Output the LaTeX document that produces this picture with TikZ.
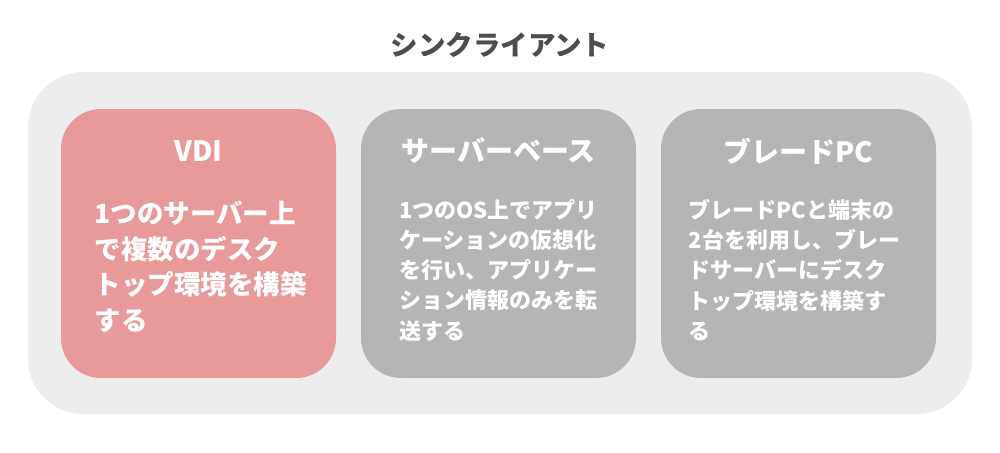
\documentclass[tikz,border=0pt]{standalone}
\usepackage{fontspec}
\setmainfont{Noto Sans CJK JP}
\usetikzlibrary{positioning}

\definecolor{panelgray}{HTML}{EDEDED}
\definecolor{cardgray}{HTML}{B5B5B5}
\definecolor{cardpink}{HTML}{E89999}
\definecolor{headgray}{HTML}{4D4D4D}

\tikzset{
	card/.style={rounded corners=40pt, minimum width=275pt, minimum height=269pt, inner sep=0pt},
	cardtitle/.style={text=white, font=\fontsize{28}{32}\selectfont\bfseries, inner sep=0pt},
	cardbody/.style={text=white, align=left, anchor=north, inner sep=0pt}
}

\begin{document}
\begin{tikzpicture}
	[x=1pt, y=-1pt]

	\useasboundingbox (0,0) rectangle (1000,452);

	% heading
	\node[text=headgray, font=\fontsize{27.5}{32}\selectfont\bfseries] (heading) at (500,45) {シンクライアント};

	% background panel
	\node[fill=panelgray, rounded corners=55pt, minimum width=944pt, minimum height=342pt] (panel) at (500,243) {};

	% cards
	\begin{scope}
		\node[card, fill=cardpink] (vdi)    at (198.5,243.5) {};
		\node[card, fill=cardgray] (server) at (498.5,243.5) {};
		\node[card, fill=cardgray] (blade)  at (798.5,243.5) {};
	\end{scope}

	% titles
	\begin{scope}
		\newcommand{\TitleOffset}{42pt}
		\node[cardtitle] (vdititle)    at ([yshift=-\TitleOffset]vdi.north)    {VDI};
		\node[cardtitle] (servertitle) at ([yshift=-\TitleOffset]server.north) {サーバーベース};
		\node[cardtitle] (bladetitle)  at ([yshift=-\TitleOffset]blade.north)  {ブレードPC};
	\end{scope}

	% descriptions
	\begin{scope}
		\node[cardbody, font=\fontsize{26.5}{35.5}\selectfont\bfseries] (vdibody) at ([xshift=2pt, yshift=-92pt]vdi.north)
			{1つのサーバー上\\で複数のデスク\\トップ環境を構築\\する};
		\node[cardbody, font=\fontsize{22}{30.3}\selectfont\bfseries] (serverbody) at ([yshift=-90pt]server.north)
			{1つのOS上でアプリ\\ケーションの仮想化\\を行い、アプリケー\\ション情報のみを転\\送する};
		\node[cardbody, font=\fontsize{22}{30.3}\selectfont\bfseries] (bladebody) at ([xshift=-4pt, yshift=-90pt]blade.north)
			{ブレードPCと端末の\\2台を利用し、ブレー\\ドサーバーにデスク\\トップ環境を構築す\\る};
	\end{scope}

\end{tikzpicture}
\end{document}
